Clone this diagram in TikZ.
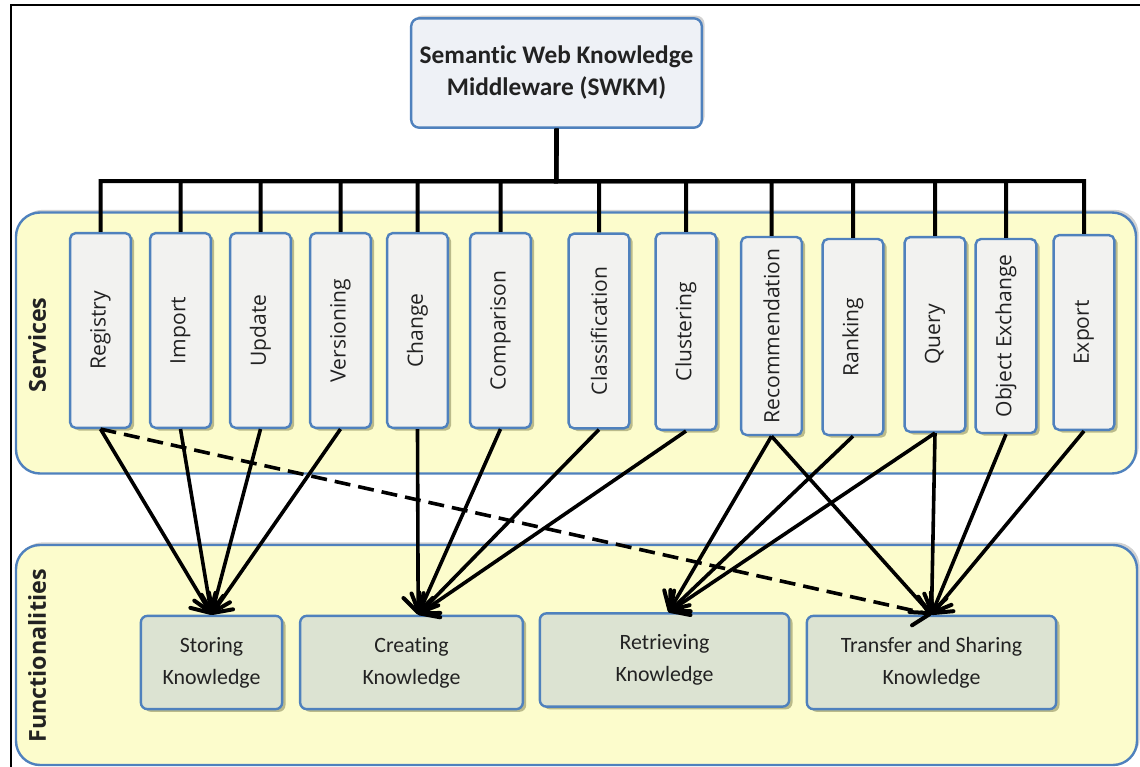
\documentclass[tikz,border=0pt]{standalone}
\usepackage{fontspec}
\usepackage{graphicx}
\setmainfont{Carlito}[Ligatures=NoCommon]
\newfontfamily\osans{Open Sans}
\usetikzlibrary{arrows.meta,shadows,calc}

\definecolor{panelfill}{HTML}{FCFCCC}
\definecolor{boxblue}{HTML}{4F81BD}
\definecolor{svcfill}{HTML}{F2F2F0}
\definecolor{funfill}{HTML}{DCE3D2}
\definecolor{topfill}{HTML}{EEF1F6}
\definecolor{shadowol}{HTML}{8F8F5E}
\definecolor{txt}{HTML}{222222}

\begin{document}
\begin{tikzpicture}[x=0.75pt,y=-0.75pt,
  panel/.style={draw=boxblue, line width=1.8pt, fill=panelfill, rounded corners=18pt,
    drop shadow={shadow xshift=2pt, shadow yshift=2pt, fill=black!25, opacity=.7}},
  svc/.style={draw=boxblue, line width=1.8pt, fill=svcfill, rounded corners=4pt,
    minimum width=45.5pt, inner sep=0pt, text=txt, font=\osans\fontsize{15.8}{18}\selectfont,
    drop shadow={shadow xshift=2.5pt, shadow yshift=-2pt, fill=shadowol, opacity=.6}},
  fun/.style={draw=boxblue, line width=1.8pt, fill=funfill, rounded corners=5pt,
    minimum height=70pt, inner sep=0pt, align=center, text=txt,
    font=\fontsize{16.4}{24}\selectfont,
    drop shadow={shadow xshift=2.5pt, shadow yshift=-2pt, fill=shadowol, opacity=.6}},
  topbox/.style={draw=boxblue, line width=1.8pt, fill=topfill, rounded corners=6pt,
    minimum width=218pt, minimum height=82pt, inner sep=0pt, align=center, text=txt,
    font=\bfseries\fontsize{19}{24}\selectfont,
    drop shadow={shadow xshift=2pt, shadow yshift=2pt, fill=black!25, opacity=.7}},
  sidelabel/.style={rotate=90, text=txt, font=\osans\bfseries\fontsize{17.5}{20}\selectfont},
  tree/.style={line width=3pt, black},
  conn/.style={line width=2.7pt, black, -{Straight Barb[length=11pt,width=22pt,line width=3pt,round]}},
  dconn/.style={conn, dash pattern=on 12pt off 6pt}
]
\useasboundingbox (0,0) rectangle (1140,767);

% frame lines
\draw[line width=2.2pt] (11,767) -- (11,5) -- (1140,5);

% panels
\node[panel, minimum width=1120*0.75pt, minimum height=261*0.75pt, inner sep=0pt] (svcpanel) at (576,343) {};
\node[panel, minimum width=1121*0.75pt, minimum height=220*0.75pt, inner sep=0pt] (funpanel) at (576.5,655) {};
\node[sidelabel] (svclabel) at (37,345) {Services};
\node[sidelabel] (funlabel) at (37,656) {Functionalities};

% top node
\node[topbox] (swkm) at (556.5,73) {Seman\kern0pt tic Web Knowledge\\Middleware (SWKM)};
\coordinate (bar) at (556,181);

% services
\node[svc, minimum height=146pt] (reg) at (100.5,330.5) {\rotatebox{90}{Registry}};
\node[svc, minimum height=146pt] (imp) at (180.5,330.5) {\rotatebox{90}{Import}};
\node[svc, minimum height=146pt] (upd) at (260.5,330.5) {\rotatebox{90}{Update}};
\node[svc, minimum height=146pt] (ver) at (340.5,330.5) {\rotatebox{90}{Versioning}};
\node[svc, minimum height=146pt] (chg) at (417.5,330.5) {\rotatebox{90}{Change}};
\node[svc, minimum height=146pt] (cmp) at (500.5,330.5) {\rotatebox{90}{Comparison}};
\node[svc, minimum height=146pt] (cls) at (599,331) {\rotatebox{90}{Classification}};
\node[svc, minimum height=147.5pt] (clu) at (686,331.5) {\rotatebox{90}{Clustering}};
\node[svc, minimum height=148.5pt] (rec) at (771.5,336) {\rotatebox{90}{Recommendation}};
\node[svc, minimum height=147pt] (rnk) at (853,337) {\rotatebox{90}{Ranking}};
\node[svc, minimum height=146pt] (qry) at (935,334.5) {\rotatebox{90}{Query}};
\node[svc, minimum height=145.5pt] (obj) at (1006,336) {\rotatebox{90}{Object Exchange}};
\node[svc, minimum height=146pt] (exp) at (1084,332.5) {\rotatebox{90}{Export}};

% functionalities
\node[fun, minimum width=106pt] (sto) at (211.5,662.5) {Storing\\Knowledge};
\node[fun, minimum width=167pt] (cre) at (411.5,662.5) {Creating\\Knowledge};
\node[fun, minimum width=187pt] (ret) at (664.5,660) {Retrieving\\Knowledge};
\node[fun, minimum width=187pt] (tra) at (931.5,662.5) {Transfer and Sharing\\Knowledge};

% tree
\foreach \s in {reg,imp,upd,ver,chg,cmp,cls,clu,rec,rnk,qry,obj,exp}
  \draw[tree] (swkm.south) -- (bar) -| (\s.north);

% connectors
\draw[dconn] (reg.south) -- (tra.north);
\foreach \s in {reg,imp,upd,ver} \draw[conn] (\s.south) -- (sto.north);
\foreach \s in {chg,cmp,cls,clu} \draw[conn] (\s.south) -- ([xshift=5pt]cre.north);
\foreach \s in {rec,rnk,qry} \draw[conn] (\s.south) -- ([xshift=3pt]ret.north);
\foreach \s in {rec,qry,obj,exp} \draw[conn] (\s.south) -- (tra.north);
\end{tikzpicture}
\end{document}
